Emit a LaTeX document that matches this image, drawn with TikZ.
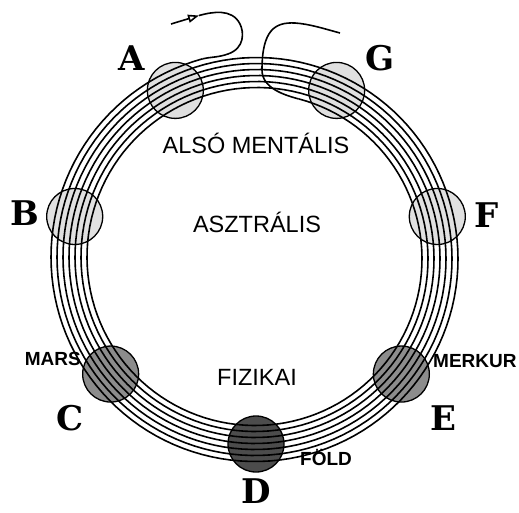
\documentclass[tikz,border=0pt]{standalone}
\usepackage{fontspec}
\setmainfont{Liberation Sans}
\newfontface\letterfont{DejaVu Serif Bold}
\usetikzlibrary{arrows.meta}
\begin{document}
\begin{tikzpicture}[x=1pt,y=-1pt,
  planet/.style={circle,draw=black,line width=1.3pt,minimum size=56pt,inner sep=0pt},
  lightp/.style={planet,fill=black!12},
  midp/.style={planet,fill=black!45},
  darkp/.style={planet,fill=black!70},
  bigletter/.style={font=\letterfont\fontsize{34}{34}\selectfont,inner sep=0pt,anchor=base},
  layertext/.style={font=\fontsize{23.5}{24}\selectfont,inner sep=0pt,anchor=base},
  smalltext/.style={font=\bfseries\fontsize{19}{19}\selectfont,inner sep=0pt},
  track/.style={line width=1.6pt,line join=round}
]
\useasboundingbox (0,0) rectangle (519,512);
\fill[white] (0,0) rectangle (519,512);
\def\cx{256}\def\cy{258}\def\rr{186}
% planets
\foreach \n/\a/\s in {A/115.7/lightp, B/167.1/lightp, C/218.6/midp, D/270/darkp, E/321.4/midp, F/12.9/lightp, G/64.3/lightp}
  \node[\s] (p\n) at ({\cx+\rr*cos(\a)},{\cy-\rr*sin(\a)}) {};
% spiral track
\draw[track] plot[samples=900, domain=105:2595, variable=\t]
  ({\cx+(205-6*(\t-180)/360)*cos(\t)},{\cy-(205-6*(\t-180)/360)*sin(\t)});
% entry
\coordinate (inStart) at (171,24);
\coordinate (inTip) at (199,15.5);
\coordinate (inJoin) at (202.6,58.8);
\draw[track,-{Triangle[open,length=11pt,width=8pt]}] (inStart) -- (inTip);
\draw[track] (inTip) .. controls (212,12) and (232,8) .. (240,24)
  .. controls (244,32) and (245,48) .. (228,54)
  .. controls (218,57.5) and (210,57) .. (inJoin);
% exit
\coordinate (outJoin) at (298.6,98.9);
\coordinate (outEnd) at (340,33);
\draw[track] (outJoin) .. controls (284,95) and (262,88) .. (262,70)
  .. controls (262,30) and (275,22) .. (295,23)
  .. controls (310,24) and (325,29) .. (outEnd);
% big letters
\node[bigletter] (lA) at (132,70) {A};
\node[bigletter] (lG) at (380,70) {G};
\node[bigletter] (lB) at (25,225) {B};
\node[bigletter] (lF) at (487,227) {F};
\node[bigletter] (lC) at (70,430) {C};
\node[bigletter] (lE) at (443,430) {E};
\node[bigletter] (lD) at (256,503) {D};
% layer names
\node[layertext] (t1) at (256,153) {ALSÓ MENTÁLIS};
\node[layertext] (t2) at (257,232) {ASZTRÁLIS};
\node[layertext] (t3) at (257,385) {FIZIKAI};
% planet names
\node[smalltext,anchor=base east] (mars) at (81,365) {MARS};
\node[smalltext,anchor=base west] (merk) at (433,367) {MERKUR};
\node[smalltext,anchor=base west] (fold) at (300,465) {FÖLD};
\end{tikzpicture}
\end{document}
